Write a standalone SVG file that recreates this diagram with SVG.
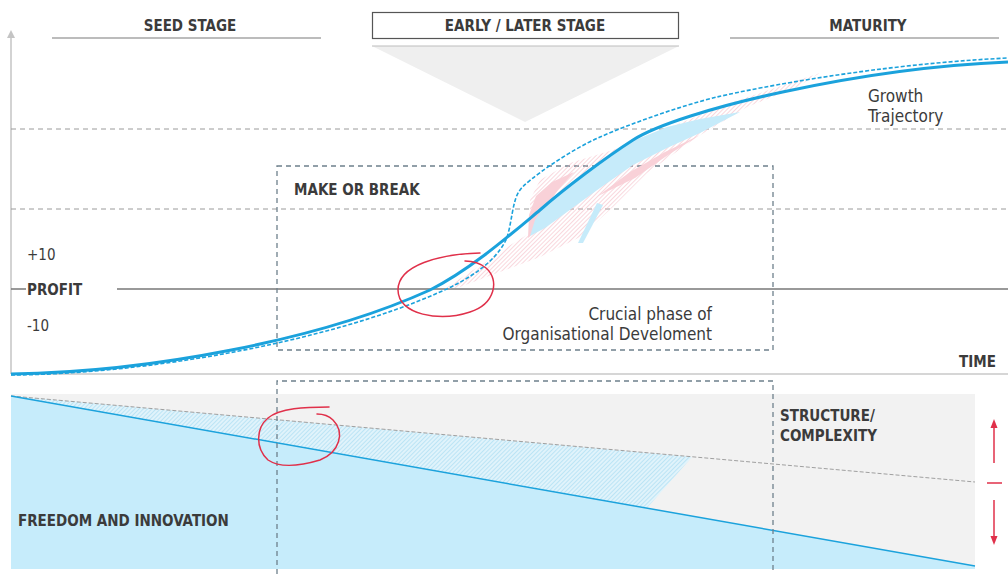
<svg xmlns="http://www.w3.org/2000/svg" width="1008" height="574" viewBox="0 0 1008 574">
<defs>
<style>
.t{font-family:"DejaVu Sans Condensed","DejaVu Sans",sans-serif;font-stretch:condensed;fill:#3b3b3b}
.b{font-weight:bold;font-size:15px}
.r{font-size:17px}
.grid{stroke:#9a9a9a;stroke-width:1;stroke-dasharray:5 4;fill:none}
.box{stroke:#6e808c;stroke-width:1.3;stroke-dasharray:5 4;fill:none}
.ul{stroke:#a6a6a6;stroke-width:1.5}
.red{stroke:#e0304a;fill:none;stroke-width:1.5;stroke-linecap:round}
</style>
<pattern id="pink" patternUnits="userSpaceOnUse" width="3" height="3" patternTransform="rotate(45)">
<line x1="0" y1="0" x2="0" y2="3" stroke="#f3b0bc" stroke-width="1"/>
</pattern>
<pattern id="bluehatch" patternUnits="userSpaceOnUse" width="3" height="3" patternTransform="rotate(45)">
<rect width="3" height="3" fill="#e0f3fb"/>
<line x1="0" y1="0" x2="0" y2="3" stroke="#97d5ef" stroke-width="1"/>
</pattern>
</defs>
<rect width="1008" height="574" fill="#ffffff"/>

<g id="stages">
<text class="t b" x="190" y="31" text-anchor="middle">SEED STAGE</text>
<line class="ul" x1="52" y1="38" x2="321" y2="38"/>
<rect x="372.5" y="12.5" width="306" height="26" fill="none" stroke="#555" stroke-width="1.2"/>
<text class="t b" x="525" y="31" text-anchor="middle">EARLY / LATER STAGE</text>
<polygon points="372,46 679,46 525,122" fill="#efefef"/>
<line x1="372" y1="46" x2="679" y2="46" stroke="#bdbdbd" stroke-width="1.2"/>
<text class="t b" x="868" y="31" text-anchor="middle">MATURITY</text>
<line class="ul" x1="730" y1="38" x2="999" y2="38"/>
</g>

<g id="axes">
<line x1="11" y1="374" x2="11" y2="37" stroke="#c4c4c4" stroke-width="1.5"/>
<polygon points="7,38 15,38 11,30" fill="#c4c4c4"/>
<line x1="11" y1="374" x2="1008" y2="374" stroke="#c8c8c8" stroke-width="1.5"/>
<text class="t b" x="996" y="367" text-anchor="end">TIME</text>
<line class="grid" x1="11" y1="129" x2="1008" y2="129"/>
<line class="grid" x1="11" y1="209" x2="1008" y2="209"/>
<line x1="11" y1="289" x2="26" y2="289" stroke="#777" stroke-width="1.5"/>
<line x1="117" y1="289" x2="1008" y2="289" stroke="#777" stroke-width="1.5"/>
<text class="t b" x="27" y="295">PROFIT</text>
<text class="t r" x="27" y="260" style="font-size:15px">+10</text>
<text class="t r" x="27" y="331" style="font-size:15px">-10</text>
</g>

<g id="make-or-break">
<rect class="box" x="277" y="166" width="496" height="184"/>
<text class="t b" x="294" y="195">MAKE OR BREAK</text>
<text class="t r" x="712" y="320" text-anchor="end">Crucial phase of</text>
<text class="t r" x="712" y="340" text-anchor="end">Organisational Develoment</text>
</g>

<g id="trajectory-zone">
<polygon points="443,290 470,272 497,255 507,247 530,233 530,200 540,180 570,163 613,150 663,130 730,103 820,73 797,87 747,107 697,137 647,173 613,207 580,237 540,257 497,273 460,287" fill="url(#pink)"/>
<polygon points="528,238 529,215 536,196 552,182 574,172 558,190 544,210 535,232" fill="#f9d1d8"/>
<polygon points="598,196 630,172 665,152 700,135 668,155 635,178" fill="#f9d1d8"/>
<polygon points="530,236 535,220 545,205 567,188 600,163 633,141 667,127 700,119 740,112 700,133 667,148 633,165 600,188 567,212 545,228" fill="#c6ebfa"/>
<polygon points="578,243 583,243 603,205 597,203" fill="#c6ebfa"/>
</g>

<g id="curves">
<path d="M 11 375 C 150 374 330 341 440 292 C 470 279 495 262 506 240 C 512 225 512 200 520 190 C 527 180 570 150 600 137 C 630 124 680 106 717 97 C 760 87 880 64 1008 58" fill="none" stroke="#1ba2dc" stroke-width="1.6" stroke-dasharray="4 2"/>
<path d="M 11 374 C 150 372 320 340 430 290 C 470 270 510 235 540 210 C 565 188 605 158 633 140 C 680 110 860 68 1008 62" fill="none" stroke="#1ba2dc" stroke-width="3"/>
<text class="t r" x="868" y="102">Growth</text>
<text class="t r" x="868" y="122">Trajectory</text>
</g>

<g id="circle-top">
<path class="red" d="M 480 253 C 440 254 398 265 398 290 C 398 315 440 322 470 312 C 495 304 500 280 486 268 C 480 263 472 261 465 261"/>
</g>

<g id="lower-chart">
<rect x="11" y="394" width="964" height="175" fill="#f2f2f2"/>
<polygon points="11,396 975,566 975,569 11,569" fill="#c6ecfb"/>
<polygon points="11,396 692,457 647,508" fill="url(#bluehatch)"/>
<line x1="11" y1="396" x2="975" y2="482" stroke="#a0a0a0" stroke-width="1" stroke-dasharray="4 2"/>
<line x1="11" y1="396" x2="975" y2="566" stroke="#1ba2dc" stroke-width="1.5"/>
<text class="t b" x="780" y="421">STRUCTURE/</text>
<text class="t b" x="780" y="441">COMPLEXITY</text>
<text class="t b" x="18" y="526">FREEDOM AND INNOVATION</text>
</g>

<g id="lower-box">
<path class="box" d="M 277 574 V 381 H 773 V 574"/>
</g>

<g id="circle-bottom">
<path class="red" d="M 329 407 C 305 407 280 408 268 418 C 256 428 255 448 268 460 C 280 468 300 466 320 460 C 340 452 345 432 333 420 C 328 415 322 414 317 414"/>
</g>

<g id="scale-arrows">
<line x1="994" y1="463" x2="994" y2="426" stroke="#e0304a" stroke-width="1.5"/>
<polygon points="990.5,428 997.5,428 994,419" fill="#e0304a"/>
<line x1="987" y1="483" x2="1002" y2="483" stroke="#e0304a" stroke-width="1.5"/>
<line x1="994" y1="500" x2="994" y2="537" stroke="#e0304a" stroke-width="1.5"/>
<polygon points="990.5,536 997.5,536 994,545" fill="#e0304a"/>
</g>
</svg>
